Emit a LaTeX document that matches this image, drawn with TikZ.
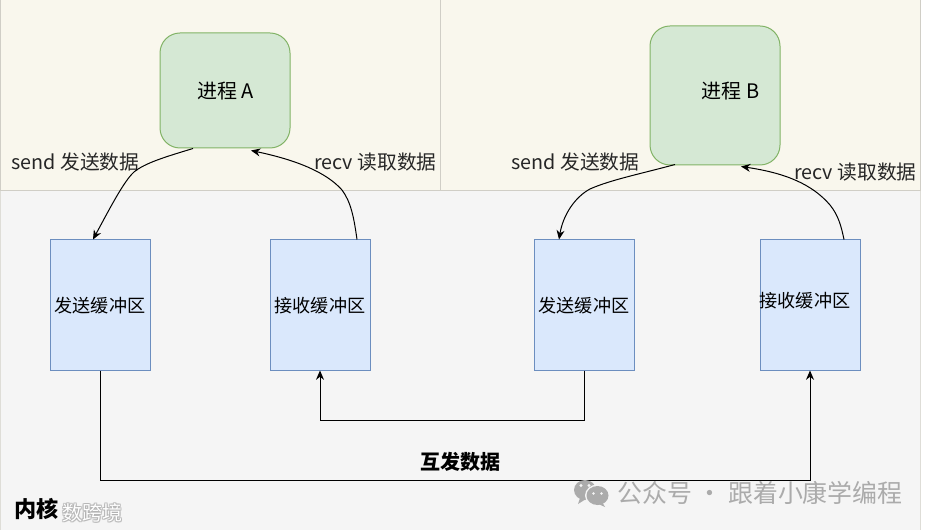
\documentclass[tikz,border=0pt]{standalone}
\usepackage{fontspec}
\setmainfont{Noto Sans CJK SC}
\usetikzlibrary{arrows.meta,calc}
\definecolor{panel}{HTML}{F9F7ED}
\definecolor{kernel}{HTML}{F5F5F5}
\definecolor{panelline}{HTML}{D0CEC6}
\definecolor{procfill}{HTML}{D5E8D4}
\definecolor{procline}{HTML}{82B366}
\definecolor{buffill}{HTML}{DAE8FC}
\definecolor{bufline}{HTML}{6C8EBF}
\definecolor{wm}{HTML}{ABABAB}
\tikzset{
  x=0.75pt,y=-0.75pt,
  panelbox/.style={draw=panelline,fill=panel,line width=0.75pt},
  kernelbox/.style={draw=panelline!70!white,fill=kernel,line width=0.75pt},
  proc/.style={draw=procline,fill=procfill,rounded corners=15pt,line width=0.75pt,minimum width=97.5pt,inner sep=0pt,font=\fontsize{15pt}{18pt}\selectfont},
  buf/.style={draw=bufline,fill=buffill,line width=0.75pt,minimum width=75pt,minimum height=97.5pt,inner sep=0pt,font=\fontsize{13.6pt}{16pt}\selectfont},
  lbl/.style={inner sep=0pt,font=\fontsize{14.8pt}{18pt}\selectfont,text=black!85},
  conn/.style={draw=black,line width=0.75pt,-{Stealth[length=7pt,width=6pt]}},
  boldlbl/.style={inner sep=0pt,font=\fontsize{15pt}{18pt}\selectfont\bfseries},
  wmtext/.style={inner sep=0pt,text=wm,font=\fontsize{18.7pt}{22pt}\selectfont},
  wmsmall/.style={inner sep=0pt,font=\fontsize{15pt}{18pt}\selectfont},
}
\begin{document}
\begin{tikzpicture}
\useasboundingbox (0,0) rectangle (930,530);
\fill[white] (0,0) rectangle (930,530);
\path[kernelbox] (0,190) rectangle (920.5,531);
\path[panelbox] (0,0) rectangle (440.5,190.5);
\path[panelbox] (440.5,0) rectangle (920.5,190.5);

\node[proc,minimum height=86.25pt] (pa) at (225,90.5) {};
\node[inner sep=0pt,font=\fontsize{15pt}{18pt}\selectfont] (pal) at (225.5,91.5) {进程 A};
\node[proc,minimum height=104.25pt] (pb) at (715,95.5) {};
\node[inner sep=0pt,font=\fontsize{15pt}{18pt}\selectfont] (pbl) at (730.5,91.5) {进程 B};

\node[buf] (b1) at (100,305) {};
\node[buf] (b2) at (320,305) {};
\node[buf] (b3) at (584,305) {};
\node[buf] (b4) at (810,305) {};
\node[inner sep=0pt,font=\fontsize{13.6pt}{16pt}\selectfont] (b1l) at (100,305.5) {发送缓冲区};
\node[inner sep=0pt,font=\fontsize{13.6pt}{16pt}\selectfont] (b2l) at (320,305.5) {接收缓冲区};
\node[inner sep=0pt,font=\fontsize{13.6pt}{16pt}\selectfont] (b3l) at (584,305.5) {发送缓冲区};
\node[inner sep=0pt,font=\fontsize{13.6pt}{16pt}\selectfont] (b4l) at (805,300.5) {接收缓冲区};

\node[lbl] (s1) at (75.5,162) {send 发送数据};
\node[lbl] (r1) at (375.5,162) {recv 读取数据};
\node[lbl] (s2) at (575.5,162) {send 发送数据};
\node[lbl] (r2) at (855.5,172) {recv 读取数据};

\draw[conn] ($(pa.south)+(-32,0)$) .. controls (165,157) and (145,163) .. (134,172)
  .. controls (124,181) and (110,208) .. (b1.north -| 93,0);
\draw[conn] ($(b2.north)+(37,0)$) .. controls (354,218) and (351,202) .. (342,190)
  .. controls (326,172) and (296,160) .. ($(pa.south)+(26,2)$);
\draw[conn] ($(pb.south)+(-40,-1)$) .. controls (640,174) and (610,180) .. (590,189)
  .. controls (575,197) and (563,215) .. (b3.north -| 559,0);
\draw[conn] ($(b4.north)+(34,0)$) .. controls (841,225) and (838,215) .. (830,205)
  .. controls (812,184) and (785,173) .. ($(pb.south)+(26,1)$);

\draw[conn] (b3.south) -- ++(0,50) -| (b2.south);
\draw[conn] (b1.south) -- ++(0,110) -| (b4.south);

\node[boldlbl] (hf) at (460.5,461.5) {互发数据};

% watermark, lower left
\foreach \dx/\dy in {-1/0,1/0,0/-1,0/1,1/1,-1/-1,1/-1,-1/1}{
  \node[wmsmall,text=black!30,opacity=.6] at ({92+\dx},{513+\dy}) {数跨境};
}
\node[wmsmall,text=white] (wmf) at (92,513) {数跨境};
\node[inner sep=0pt,font=\fontsize{16.6pt}{20pt}\selectfont\bfseries] (nh) at (36.5,509) {内核};

% watermark, lower right
\fill[wm] (585,490) ellipse (11 and 10);
\fill[wm] (580,498) -- (578,504) -- (586,499) -- cycle;
\fill[kernel] (597.5,495.5) ellipse (12.5 and 11);
\fill[wm] (597.5,495.5) ellipse (11 and 9.5);
\fill[wm] (602,502) -- (605,507) -- (596,503) -- cycle;
\fill[kernel] (581,485.5) circle (1.6) (589,485.5) circle (1.6) (593.5,493.5) circle (1.4) (601.5,493.5) circle (1.4);
\node[wmtext,anchor=west] (wmr) at (617,492.5) {公众号 · 跟着小康学编程};
\end{tikzpicture}
\end{document}
